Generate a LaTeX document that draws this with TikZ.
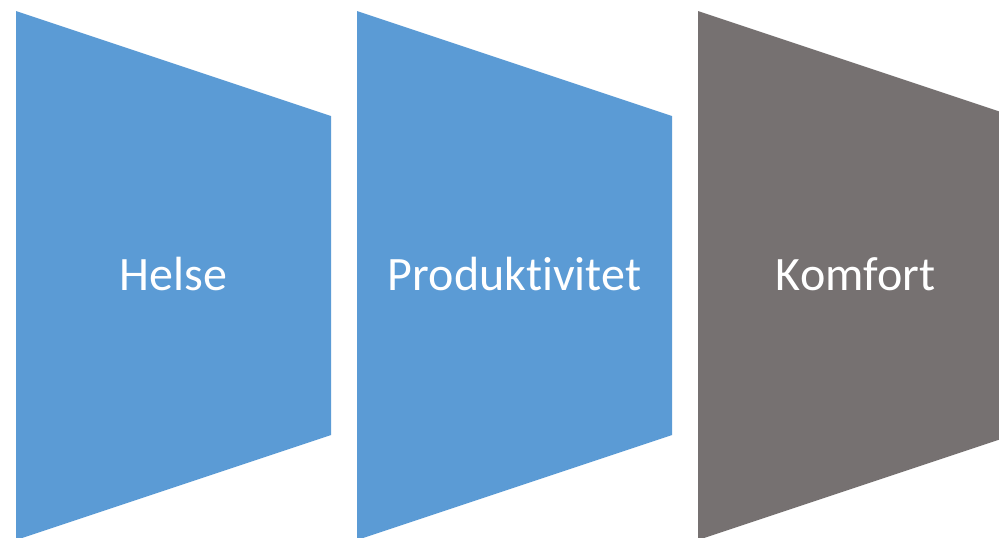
\documentclass[tikz,border=0pt]{standalone}
\usepackage{fontspec}
\setmainfont[Ligatures=NoCommon]{Carlito}
\usetikzlibrary{positioning}
\definecolor{Cblue}{RGB}{91, 155, 213}
\definecolor{Cgrey}{RGB}{118, 113, 113}
\tikzset{
    cpanel/.style={fill=#1, draw=none},
    clabel/.style={
        text=white, font=\fontsize{36}{43}\selectfont,
        inner sep=0pt, anchor=base
    },
}

\begin{document}
\begin{tikzpicture}[x=0.75pt, y=-0.75pt]

    \clip (0,0) rectangle (999,537);
    \fill [white] (0,0) rectangle (999,537);

    % tapered panels, 341 apart, narrowing to the right
    \foreach \x/\col in {16/Cblue, 357/Cblue, 698/Cgrey}
        \path [cpanel=\col] (\x,11) -- (\x+315,116) -- (\x+315,435) -- (\x,540) -- cycle;

    \node [clabel] (helse) at (173.5,290) {Helse};
    \node [clabel] (prod)  at (514.5,290) {Produktivitet};
    \node [clabel] (komf)  at (855.5,290) {Komfort};

\end{tikzpicture}
\end{document}
